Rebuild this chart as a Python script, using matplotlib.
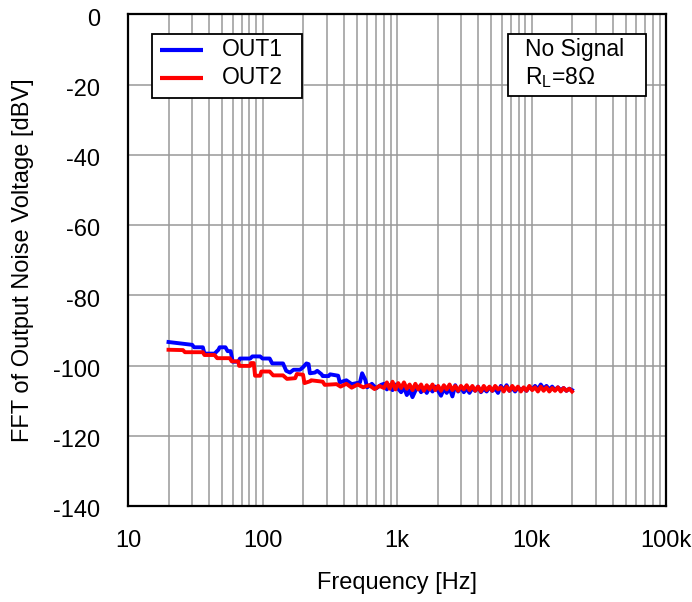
import matplotlib
matplotlib.use('Agg')
import matplotlib.pyplot as plt
from matplotlib.patches import Rectangle
from matplotlib.ticker import LogLocator, FixedLocator, NullFormatter
from matplotlib.transforms import ScaledTranslation

plt.rcParams['font.family'] = ['Liberation Sans', 'DejaVu Sans']
plt.rcParams['mathtext.fontset'] = 'custom'
plt.rcParams['mathtext.rm'] = 'Liberation Sans'

# shared dense part of the spectrum (Hz)
freq_hi = [800, 840, 882, 926, 972, 1021, 1072, 1126, 1182, 1241, 1303, 1368, 1437, 1509,
           1584, 1663, 1746, 1834, 1925, 2022, 2123, 2229, 2340, 2457, 2580, 2709, 2845,
           2987, 3136, 3293, 3458, 3631, 3812, 4003, 4203, 4413, 4634, 4865, 5109, 5364,
           5633, 5914, 6210, 6520, 6846, 7189, 7548, 7926, 8322, 8738, 9175, 9634, 10115,
           10621, 11152, 11710, 12295, 12910, 13556, 14233, 14945, 15692, 16477, 17301,
           18166, 19074, 20000]

# OUT1
out1_freq_lo = [20, 30, 31, 36, 37, 44, 47, 48, 53, 55, 58, 60, 66, 68, 81, 84, 96, 100, 113,
                118, 142, 150, 160, 170, 190, 200, 212, 220, 225, 245, 255, 275, 280, 310,
                318, 365, 375, 420, 460, 530, 550, 580, 600, 650, 700, 760]
out1_db_lo = [-93.3, -94.1, -94.8, -94.8, -96.6, -96.6, -95.5, -94.8, -94.8, -95.9, -95.9,
              -98.9, -98.9, -98.0, -98.0, -97.4, -97.4, -98.0, -98.0, -99.4, -99.4, -101.5,
              -102.0, -101.2, -101.2, -100.5, -99.4, -99.6, -102.2, -102.0, -101.5, -102.5,
              -103.0, -103.0, -102.5, -102.9, -104.8, -104.2, -105.3, -104.8, -102.2, -104.0,
              -106.2, -105.2, -106.5, -105.5]
out1_db_hi = [-105.2, -106.8, -105.6, -107.0, -105.4, -106.6, -107.6, -106.2, -108.4, -107.0,
              -109.0, -107.2, -106.0, -107.6, -106.4, -107.8, -106.2, -107.4, -106.0, -107.2,
              -108.6, -106.6, -107.8, -106.4, -108.8, -105.6, -107.4, -106.2, -107.6, -106.6,
              -107.8, -106.4, -107.2, -106.0, -107.6, -106.6, -107.4, -106.2, -107.2, -106.6,
              -107.8, -105.8, -107.0, -105.6, -107.2, -106.4, -107.4, -106.2, -107.0, -106.4,
              -107.2, -106.0, -106.8, -105.8, -106.8, -105.4, -106.6, -105.8, -106.8, -106.0,
              -107.0, -106.2, -107.0, -106.4, -107.2, -106.6, -107.0]

# OUT2
out2_freq_lo = [20, 25.6, 26.5, 36, 37, 44, 46, 57, 59, 66, 67, 81, 82, 86, 88, 96, 98, 113,
                120, 142, 152, 175, 180, 200, 205, 225, 230, 280, 290, 355, 380, 420, 460,
                510, 560, 620, 680, 740]
out2_db_lo = [-95.5, -95.6, -96.2, -96.2, -97.0, -97.0, -97.9, -97.9, -98.8, -98.8, -100.1,
              -100.1, -99.3, -99.3, -102.9, -102.9, -101.7, -101.7, -102.8, -102.8, -103.8,
              -103.6, -102.4, -102.6, -105.0, -104.5, -104.2, -104.6, -105.5, -105.3, -106.0,
              -105.2, -106.3, -105.4, -106.2, -105.6, -106.7, -105.8]
out2_db_hi = [-106.4, -104.8, -106.6, -104.6, -106.8, -105.0, -106.4, -104.8, -106.6, -105.4,
              -107.0, -105.2, -106.8, -105.4, -107.2, -105.6, -106.8, -105.4, -107.0, -105.8,
              -107.2, -105.6, -106.8, -105.4, -107.0, -105.8, -107.2, -105.8, -106.8, -105.6,
              -107.0, -105.8, -107.2, -106.0, -107.4, -105.8, -107.0, -106.0, -107.2, -105.8,
              -106.8, -106.2, -107.4, -106.0, -107.2, -105.8, -107.0, -106.0, -107.4, -106.2,
              -107.2, -105.8, -107.0, -106.2, -107.4, -106.0, -107.2, -106.2, -107.4, -106.4,
              -107.2, -106.2, -107.4, -106.4, -107.2, -106.6, -107.4]

series_names = ['OUT1', 'OUT2']
series_colors = ['#0000ff', '#ff0000']

xticks = [10, 100, 1000, 10000, 100000]
xtick_labels = ['10', '100', '1k', '10k', '100k']
yticks = [0, -20, -40, -60, -80, -100, -120, -140]

fs = 17
grid_color = '#999999'

fig = plt.figure(figsize=(6.92, 6.02), dpi=100)
ax = fig.add_axes([0.185, 0.1595, 0.7775, 0.8165])

ax.set_xscale('log')
ax.set_xlim(10, 100000)
ax.set_ylim(-140, 0)

ax.plot(out1_freq_lo + freq_hi, out1_db_lo + out1_db_hi, color=series_colors[0], lw=2.8,
        label=series_names[0], zorder=3)
ax.plot(out2_freq_lo + freq_hi, out2_db_lo + out2_db_hi, color=series_colors[1], lw=2.8,
        label=series_names[1], zorder=4)

ax.xaxis.set_major_locator(FixedLocator(xticks))
ax.set_xticklabels(xtick_labels)
ax.xaxis.set_minor_locator(LogLocator(base=10, subs=range(2, 10)))
ax.xaxis.set_minor_formatter(NullFormatter())
ax.set_yticks(yticks)
ax.set_yticklabels([str(v) for v in yticks])

ax.grid(True, which='both', axis='x', color=grid_color, lw=1.1)
ax.grid(True, which='major', axis='y', color=grid_color, lw=1.1)
ax.set_axisbelow(True)

ax.tick_params(which='both', length=0, labelsize=fs)
ax.tick_params(axis='x', pad=17)
ax.tick_params(axis='y', pad=20)
for lab in ax.get_yticklabels():
    lab.set_transform(lab.get_transform() + ScaledTranslation(0, -2 / 72, fig.dpi_scale_trans))

for sp in ax.spines.values():
    sp.set_linewidth(1.6)
    sp.set_color('black')

ax.set_xlabel('Frequency [Hz]', fontsize=fs, labelpad=15)
ax.set_ylabel('FFT of Output Noise Voltage [dBV]', fontsize=fs, labelpad=14)

# legend box drawn by hand so its size follows the original
ax.add_patch(Rectangle((0.0446, 0.8306), 0.2788, 0.1306, transform=ax.transAxes,
                       facecolor='white', edgecolor='black', lw=1.3, zorder=5))
for i, (name, col) in enumerate(zip(series_names, series_colors)):
    yy = 0.9286 - i * 0.0572
    ax.plot([0.0595, 0.1394], [yy, yy], transform=ax.transAxes, color=col, lw=3.0,
            zorder=6, solid_capstyle='butt')
    ax.text(0.1747, yy, name, transform=ax.transAxes, fontsize=16.5,
            va='center', ha='left', zorder=6)

ax.add_patch(Rectangle((0.706, 0.835), 0.257, 0.126, transform=ax.transAxes,
                       facecolor='white', edgecolor='black', lw=1.3, zorder=5))
ax.text(0.738, 0.929, 'No Signal', transform=ax.transAxes, fontsize=16.5,
        va='center', ha='left', zorder=6)
ax.text(0.738, 0.871, r'R$_\mathregular{L}$=8Ω', transform=ax.transAxes, fontsize=16.5,
        va='center', ha='left', zorder=6)

fig.savefig('out.png', dpi=100)
